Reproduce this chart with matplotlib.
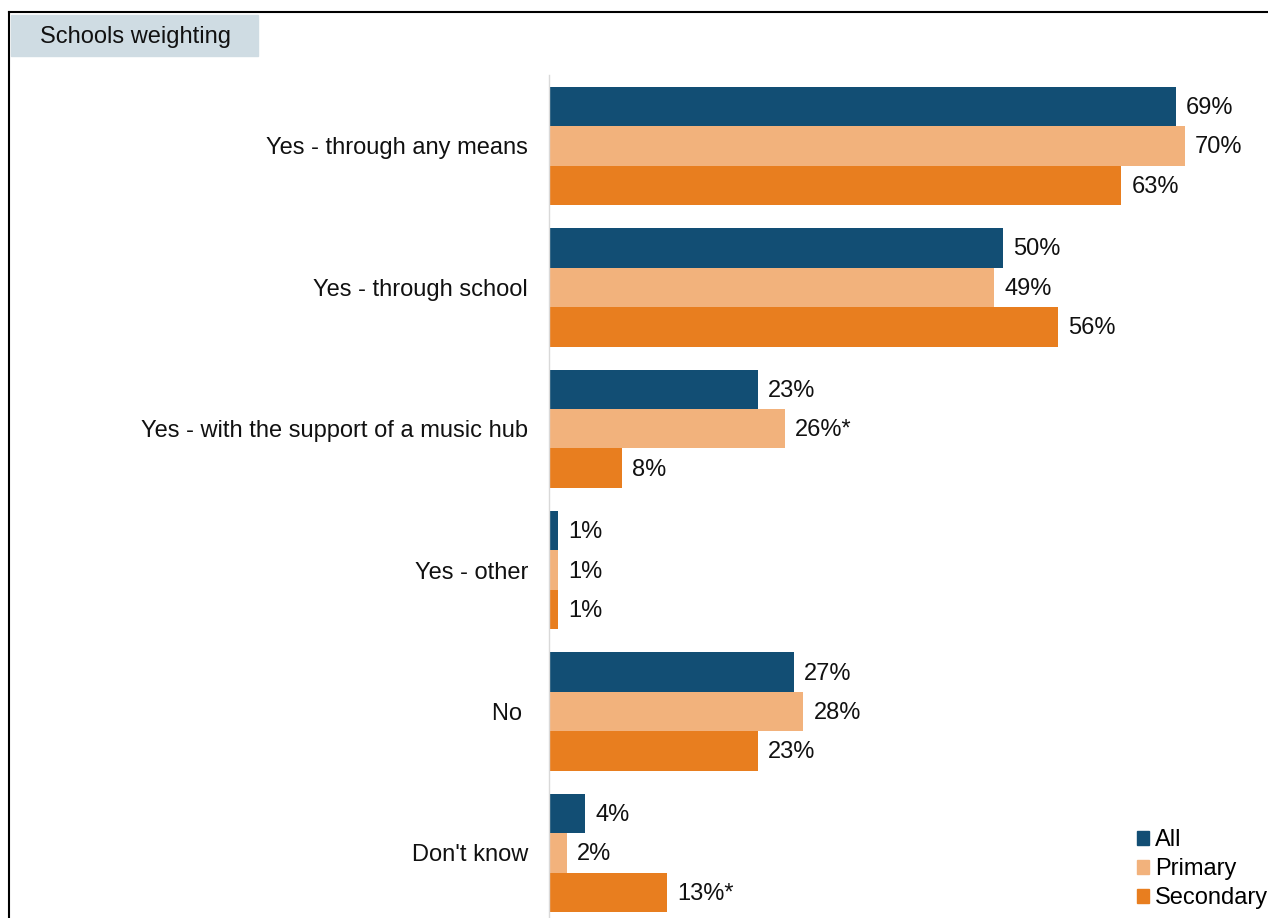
import numpy as np
import matplotlib.pyplot as plt
from matplotlib.patches import Rectangle, Patch
from matplotlib.lines import Line2D

plt.rcParams['font.family'] = ['Liberation Sans', 'DejaVu Sans']

categories = ['Yes - through any means', 'Yes - through school',
              'Yes - with the support of a music hub', 'Yes - other',
              'No ', "Don't know"]
all_vals = [69, 50, 23, 1, 27, 4]
primary_vals = [70, 49, 26, 1, 28, 2]
secondary_vals = [63, 56, 8, 1, 23, 13]
primary_marks = ['', '', '*', '', '', '']
secondary_marks = ['', '', '', '', '', '*']

series = [('All', all_vals, ['']*6, '#124E74'),
          ('Primary', primary_vals, primary_marks, '#F2B27C'),
          ('Secondary', secondary_vals, secondary_marks, '#E87E1F')]

FS = 17
TXT = '#111111'

W, H = 1268, 918
fig = plt.figure(figsize=(W/100, H/100), dpi=100)
ax = fig.add_axes([549/W, 0, 719/W, 1 - 75/H])

ind = np.arange(len(categories))
h = 0.279
for k, (name, vals, marks, col) in enumerate(series):
    y = ind + (k - 1)*h
    bars = ax.barh(y, vals, h, color=col, label=name)
    for rect, v, m in zip(bars, vals, marks):
        ax.text(rect.get_width() + 1.1, rect.get_y() + h/2 + 0.01,
                '%d%%%s' % (v, m), va='center', ha='left', fontsize=FS,
                color=TXT)

ax.set_xlim(0, 719/9.087)
ax.set_ylim(5.46, -0.502)
ax.set_yticks(ind)
ax.set_yticklabels(categories, fontsize=FS, color=TXT)
ax.tick_params(axis='y', length=0, pad=15)
ax.set_xticks([])
for s in ['top', 'right', 'bottom']:
    ax.spines[s].set_visible(False)
ax.spines['left'].set_color('#D9D9D9')
ax.spines['left'].set_linewidth(1)

handles = [Patch(color=c) for _, _, _, c in series]
ax.legend(handles, [s[0] for s in series], loc='lower right',
          bbox_to_anchor=(1.013, -0.001), frameon=False, fontsize=FS,
          handlelength=0.5, handleheight=0.5, handletextpad=0.25,
          labelspacing=0.3, borderaxespad=0)

# frame and heading box
fig.add_artist(Line2D([9/W, 1], [1 - 12/H]*2, color='black', lw=1.5))
fig.add_artist(Line2D([9/W]*2, [0, 1 - 12/H], color='black', lw=1.5))
fig.add_artist(Rectangle((11/W, 1 - 56/H), 247/W, 41/H, color='#CFDCE3',
                         transform=fig.transFigure))
fig.text(40/W, 1 - 37.5/H, 'Schools weighting', fontsize=FS, va='center',
         ha='left', color=TXT)

fig.savefig('out.png', dpi=100)
